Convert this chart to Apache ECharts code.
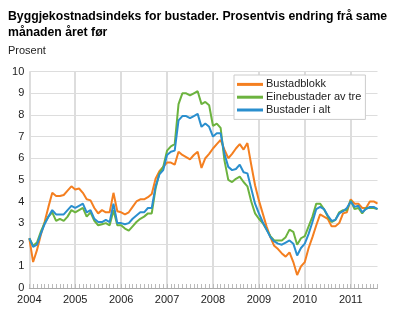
<!DOCTYPE html>
<html><head><meta charset="utf-8">
<script src="https://cdn.jsdelivr.net/npm/echarts@6/dist/echarts.min.js"></script>
<style>html,body{margin:0;padding:0;background:#fff}#c{width:404px;height:325px}</style>
</head><body><div id="c"></div>
<script>
const years = ['2004','2005','2006','2007','2008','2009','2010','2011'];
const monthsPerYear = 12;
const nPoints = 92; // Jan 2004 – Aug 2011
const yTicks = [0,1,2,3,4,5,6,7,8,9,10];

const bustadblokk = [
 2.3,1.2,1.75,2.45,3.05,3.75,4.4,4.25,4.25,4.3,4.5,4.7,
 4.55,4.6,4.4,4.1,4.05,3.7,3.45,3.6,3.5,3.5,4.4,3.55,
 3.5,3.4,3.5,3.75,4.0,4.1,4.1,4.2,4.35,5.05,5.4,5.6,
 5.8,5.8,5.7,6.3,6.15,6.05,5.95,6.15,6.3,5.55,6.0,6.2,
 6.45,6.65,6.85,6.4,6.0,6.2,6.45,6.65,6.4,6.7,5.7,4.75,
 4.05,3.45,2.85,2.35,1.95,1.8,1.6,1.45,1.65,1.2,0.6,1.0,
 1.2,1.85,2.35,2.9,3.4,3.3,3.2,2.85,2.85,3.0,3.45,3.5,
 4.1,3.9,3.9,3.7,3.7,4.0,4.0,3.9];
const einebustader = [
 2.3,1.95,2.1,2.6,3.0,3.3,3.5,3.1,3.2,3.1,3.3,3.6,
 3.5,3.6,3.7,3.3,3.5,3.1,2.9,2.95,3.0,2.9,3.6,2.9,
 2.9,2.75,2.65,2.85,3.05,3.2,3.3,3.45,3.45,4.6,5.3,5.6,
 6.35,6.55,6.65,8.5,9.0,9.0,8.9,9.0,9.1,8.5,8.6,8.45,
 7.5,7.6,7.4,5.9,5.0,4.9,5.05,5.15,4.9,4.7,4.0,3.45,
 3.2,3.0,2.7,2.4,2.2,2.2,2.2,2.35,2.7,2.6,2.0,2.3,
 2.4,2.85,3.3,3.9,3.9,3.65,3.3,3.05,3.15,3.5,3.6,3.6,
 4.05,3.65,3.7,3.45,3.7,3.7,3.7,3.65];
const bustaderIAlt = [
 2.3,1.9,2.0,2.5,2.95,3.3,3.6,3.4,3.4,3.4,3.6,3.8,
 3.7,3.8,3.9,3.5,3.6,3.2,3.05,3.05,3.15,3.05,3.9,3.0,
 3.0,2.95,3.0,3.2,3.35,3.5,3.5,3.7,3.7,4.7,5.25,5.45,
 6.15,6.3,6.35,7.75,7.95,7.95,7.85,7.95,8.05,7.45,7.6,7.45,
 7.0,7.15,7.15,6.2,5.6,5.45,5.5,5.7,5.35,5.3,4.6,3.9,
 3.45,3.05,2.7,2.35,2.15,2.05,2.0,2.1,2.2,2.05,1.5,1.85,
 2.05,2.5,3.05,3.65,3.75,3.65,3.35,3.1,3.15,3.45,3.55,3.7,
 4.0,3.75,3.8,3.5,3.65,3.75,3.75,3.65];

const categories = [];
for (let i = 0; i < nPoints; i++) {
  categories.push(i % monthsPerYear === 0 ? years[i / monthsPerYear] : '');
}

const chart = echarts.init(document.getElementById('c'), null, {renderer:'canvas'});
const font = '"Liberation Sans", Arial, sans-serif';
const mk = (name, data, color) => ({
  name, type:'line', data, symbol:'none', smooth:false,
  lineStyle:{width:2, color}, itemStyle:{color}, z: 3
});
chart.setOption({
  animation:false,
  textStyle:{fontFamily:font},
  title:[
    {text:'Byggjekostnadsindeks for bustader. Prosentvis endring frå same\nmånaden året før',
     left:8, top:9, padding:0, textStyle:{fontSize:12.25, fontWeight:'bold', color:'#000', lineHeight:15.5, fontFamily:font}},
    {text:'Prosent', left:8, top:45, padding:0, textStyle:{fontSize:11, fontWeight:'normal', color:'#222', fontFamily:font}}
  ],
  legend:{
    orient:'vertical', left:234, top:75, padding:[3,4,3,3],
    backgroundColor:'#fff', borderColor:'#ccc', borderWidth:1,
    itemWidth:26, itemHeight:3, itemGap:0, icon:'rect',
    textStyle:{fontSize:11, color:'#222', lineHeight:12.8, fontFamily:font, padding:[0,0,0,-2]},
    data:['Bustadblokk','Einebustader av tre','Bustader i alt']
  },
  grid:{left:29.3, right:404-377.5, top:71.7, bottom:325-288, containLabel:false},
  xAxis:{
    type:'category', data:categories, boundaryGap:false,
    axisLine:{show:true, lineStyle:{color:'#aaa', width:1}},
    axisTick:{show:true, inside:true, length:4, interval:0, lineStyle:{color:'#bbb'}},
    axisLabel:{interval:(i)=> i % monthsPerYear === 0, fontSize:11, color:'#222', margin:6, fontFamily:font},
    splitLine:{show:true, interval:(i)=> i % monthsPerYear === 0, lineStyle:{color:'#ddd', width:2}}
  },
  yAxis:{
    type:'value', min:yTicks[0], max:yTicks[yTicks.length-1], interval:1,
    axisLine:{show:false}, axisTick:{show:false},
    axisLabel:{fontSize:11, color:'#222', margin:5, fontFamily:font},
    splitLine:{lineStyle:{color:'#ddd', width:1}}
  },
  series:[
    mk('Bustadblokk', bustadblokk, '#f47f20'),
    mk('Einebustader av tre', einebustader, '#6cb33f'),
    mk('Bustader i alt', bustaderIAlt, '#2a8fce')
  ]
});
</script></body></html>
